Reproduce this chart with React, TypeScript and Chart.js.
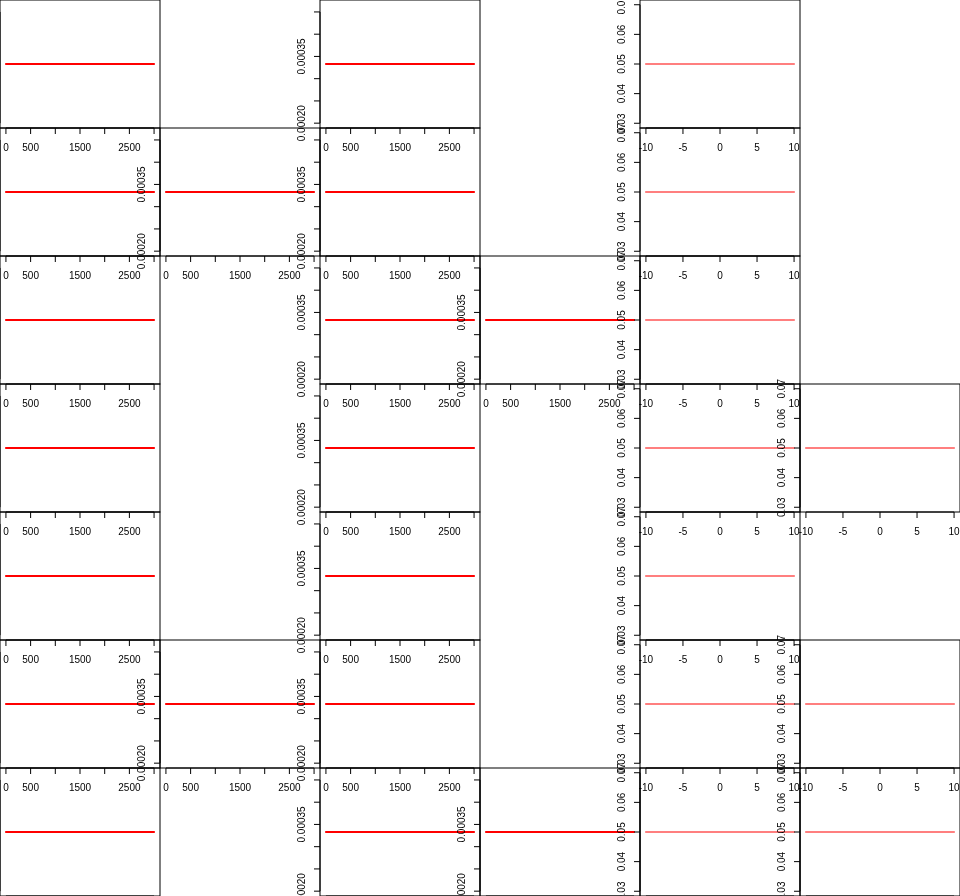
import React, { useEffect, useRef } from "react";
import { Chart, registerables } from "chart.js";

Chart.register(...registerables);

// grid of small panels: R = red density (0..3000), P = pink density (-10..10), . = empty cell
const panelRows = ["R.R.P.", "RRR.P.", "R.RRP.", "R.R.PP", "R.R.P.", "RRR.PP", "R.RRPP"];

const redX = [0, 3000];
const redY = [0.000333, 0.000333];
const redXTicks = [0, 500, 1000, 1500, 2000, 2500, 3000];
const redXLabels = ["0", "500", "", "1500", "", "2500", ""];
const redYTicks = [0.0002, 0.00025, 0.0003, 0.00035, 0.0004, 0.00045];
const redYLabels = ["0.00020", "", "", "0.00035", "", ""];

const pinkX = [-10, 10];
const pinkY = [0.05, 0.05];
const pinkXTicks = [-10, -5, 0, 5, 10];
const pinkXLabels = ["-10", "-5", "0", "5", "10"];
const pinkYTicks = [0.03, 0.04, 0.05, 0.06, 0.07];
const pinkYLabels = ["0.03", "0.04", "0.05", "0.06", "0.07"];

const CELL_W = 160;
const CELL_H = 128;
const M = 30;
const FONT = '10px "Liberation Sans", Arial, Helvetica, sans-serif';

function rLimits(vals: number[]): [number, number] {
  let lo = Math.min(...vals);
  let hi = Math.max(...vals);
  if (lo === hi) {
    if (lo === 0) {
      lo = -1;
      hi = 1;
    } else {
      const d = 0.4 * Math.abs(lo);
      lo -= d;
      hi += d;
    }
  }
  const e = 0.04 * (hi - lo);
  return [lo - e, hi + e];
}

type Spec = {
  x: number[];
  y: number[];
  xt: number[];
  xl: string[];
  yt: number[];
  yl: string[];
  color: string;
};

const specs: Record<string, Spec> = {
  R: { x: redX, y: redY, xt: redXTicks, xl: redXLabels, yt: redYTicks, yl: redYLabels, color: "#ff0000" },
  P: { x: pinkX, y: pinkY, xt: pinkXTicks, xl: pinkXLabels, yt: pinkYTicks, yl: pinkYLabels, color: "rgba(255,0,0,0.5)" },
};

function Panel({ row, col, kind }: { row: number; col: number; kind: string }) {
  const ref = useRef<HTMLCanvasElement | null>(null);
  useEffect(() => {
    const s = specs[kind];
    const [xmin, xmax] = rLimits(s.x);
    const [ymin, ymax] = rLimits(s.y);
    const axesPlugin = {
      id: "rAxes",
      afterDraw(chart: any) {
        const ctx = chart.ctx;
        const { left, right, top, bottom } = chart.chartArea;
        const xs = chart.scales.x;
        const ys = chart.scales.y;
        ctx.save();
        ctx.strokeStyle = "#000";
        ctx.fillStyle = "#000";
        ctx.lineWidth = 1;
        ctx.font = FONT;
        // x axis
        ctx.beginPath();
        ctx.moveTo(xs.getPixelForValue(s.xt[0]), bottom);
        ctx.lineTo(xs.getPixelForValue(s.xt[s.xt.length - 1]), bottom);
        s.xt.forEach((t) => {
          const px = xs.getPixelForValue(t);
          ctx.moveTo(px, bottom);
          ctx.lineTo(px, bottom + 6);
        });
        ctx.stroke();
        ctx.textAlign = "center";
        ctx.textBaseline = "alphabetic";
        s.xt.forEach((t, i) => {
          if (s.xl[i]) ctx.fillText(s.xl[i], xs.getPixelForValue(t), bottom + 22.5);
        });
        // y axis
        ctx.beginPath();
        ctx.moveTo(left, ys.getPixelForValue(s.yt[0]));
        ctx.lineTo(left, ys.getPixelForValue(s.yt[s.yt.length - 1]));
        s.yt.forEach((t) => {
          const py = ys.getPixelForValue(t);
          ctx.moveTo(left, py);
          ctx.lineTo(left - 6, py);
        });
        ctx.stroke();
        s.yt.forEach((t, i) => {
          if (!s.yl[i]) return;
          ctx.save();
          ctx.translate(left - 14.7, ys.getPixelForValue(t));
          ctx.rotate(-Math.PI / 2);
          ctx.textAlign = "center";
          ctx.textBaseline = "alphabetic";
          ctx.fillText(s.yl[i], 0, 0);
          ctx.restore();
        });
        // box
        ctx.strokeRect(left, top, right - left, bottom - top);
        ctx.restore();
      },
    };
    const chart = new Chart(ref.current as HTMLCanvasElement, {
      type: "line",
      data: {
        datasets: [
          {
            data: s.x.map((x, i) => ({ x, y: s.y[i] })),
            borderColor: s.color,
            borderWidth: 2,
            borderCapStyle: "round",
            pointRadius: 0,
            fill: false,
            tension: 0,
          } as any,
        ],
      },
      options: {
        animation: false,
        responsive: false,
        events: [],
        layout: { padding: M },
        plugins: { legend: { display: false }, tooltip: { enabled: false }, title: { display: false } },
        scales: {
          x: { type: "linear", display: false, min: xmin, max: xmax },
          y: { type: "linear", display: false, min: ymin, max: ymax },
        },
      },
      plugins: [axesPlugin],
    });
    return () => chart.destroy();
  }, [kind]);
  return (
    <canvas
      ref={ref}
      width={CELL_W + 2 * M}
      height={CELL_H + 2 * M}
      style={{
        position: "absolute",
        left: col * CELL_W - M,
        top: row * CELL_H - M,
        width: CELL_W + 2 * M,
        height: CELL_H + 2 * M,
      }}
    />
  );
}

export default function App() {
  const panels: { row: number; col: number; kind: string }[] = [];
  panelRows.forEach((r, ri) => {
    r.split("").forEach((k, ci) => {
      if (k !== ".") panels.push({ row: ri, col: ci, kind: k });
    });
  });
  return (
    <div
      style={{
        position: "fixed",
        left: 0,
        top: 0,
        width: 960,
        height: 896,
        overflow: "hidden",
        background: "#ffffff",
      }}
    >
      {panels.map((p) => (
        <Panel key={`${p.row}-${p.col}`} row={p.row} col={p.col} kind={p.kind} />
      ))}
    </div>
  );
}
